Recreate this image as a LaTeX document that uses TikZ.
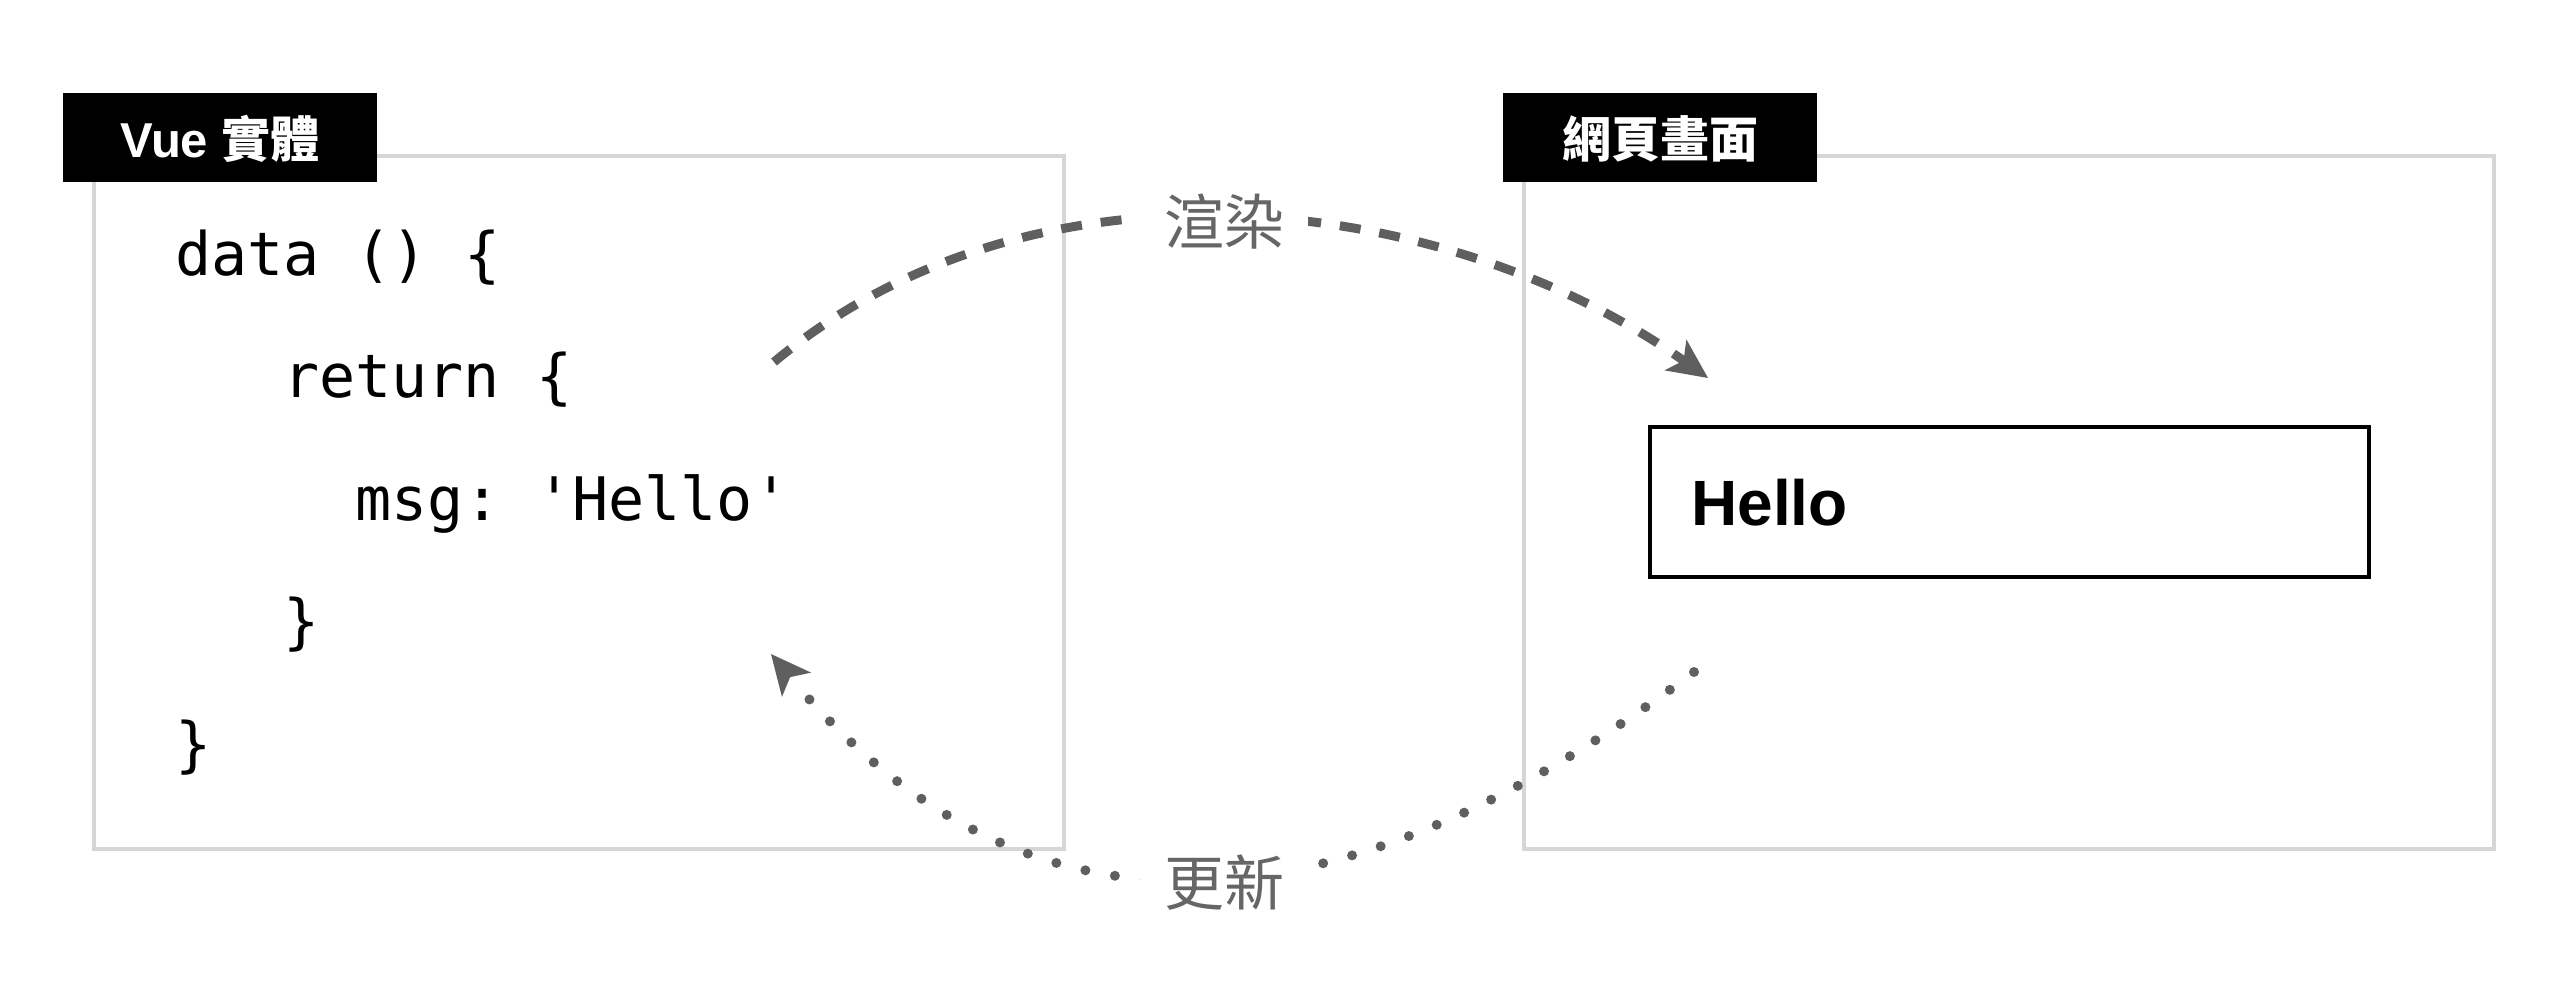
\documentclass[tikz,border=0pt]{standalone}
\usepackage{fontspec}
\setmainfont{Liberation Sans}
\setmonofont{DejaVu Sans Mono}
\newfontfamily\cjk{Noto Sans CJK TC}
\usetikzlibrary{arrows.meta}
\definecolor{panelgray}{HTML}{D6D6D6}
\definecolor{arrowgray}{HTML}{5F5F5F}
\definecolor{labelgray}{HTML}{666666}
\begin{document}
\begin{tikzpicture}[x=1pt,y=-1pt,
  panel/.style={draw=panelgray,line width=4pt,inner sep=0pt,minimum width=970pt,minimum height=693pt},
  tagbox/.style={fill=black,inner sep=0pt,minimum width=314pt,minimum height=89pt},
  tagtext/.style={text=white,font=\fontsize{49}{56}\selectfont\bfseries,inner sep=0pt,anchor=base},
  codeline/.style={font=\ttfamily\fontsize{60}{70}\selectfont,inner sep=0pt,anchor=base west},
  showbox/.style={draw=black,line width=4pt,inner sep=0pt,minimum width=719pt,minimum height=150pt},
  arclabel/.style={fill=white,text=labelgray,font=\cjk\fontsize{60}{70}\selectfont,inner xsep=24pt,inner ysep=6pt},
  tiphead/.style={-{Stealth[length=40pt,width=38pt,inset=10pt,line width=0pt]}},
  flow/.style={draw=arrowgray,line width=9pt,dash pattern=on 21pt off 19pt,tiphead},
  back/.style={draw=arrowgray,line width=10pt,line cap=round,dash pattern=on 0pt off 30pt,tiphead}
]
\useasboundingbox (0,0) rectangle (2576,998);
% panels
\node[panel] (vuepanel) at (579,502.5) {};
\node[panel] (webpanel) at (2009,502.5) {};
% tags
\node[tagbox] (vuetag) at (220,137.5) {};
\node[tagtext] (vuetagtext) at (220,157) {Vue {\cjk 實體}};
\node[tagbox] (webtag) at (1660,137.5) {};
\node[tagtext] (webtagtext) at (1660,157) {\cjk 網頁畫面};
% code
\node[codeline] (code1) at (175,275) {data () \{};
\node[codeline] (code2) at (283,397) {return \{};
\node[codeline] (code3) at (355.5,520) {msg: 'Hello'};
\node[codeline] (code4) at (283,642) {\}};
\node[codeline] (code5) at (175,765) {\}};
% web page
\node[showbox] (hellobox) at (2009.5,502) {};
\node[font=\fontsize{64}{72}\selectfont\bfseries,inner sep=0pt,anchor=base west] (hellotext) at (1691,525) {Hello};
% connectors
\coordinate (rstart) at (774,362);
\coordinate (rend) at (1708,378);
\draw[flow] (rstart) .. controls (1040,140) and (1450,195) .. (rend);
\coordinate (ustart) at (1694,672);
\coordinate (uend) at (771,654);
\draw[back] (ustart) .. controls (1373,913) and (1045,984) .. (uend);
\node[arclabel] (render) at (1224,222) {渲染};
\node[arclabel] (update) at (1224,883) {更新};
\end{tikzpicture}
\end{document}
